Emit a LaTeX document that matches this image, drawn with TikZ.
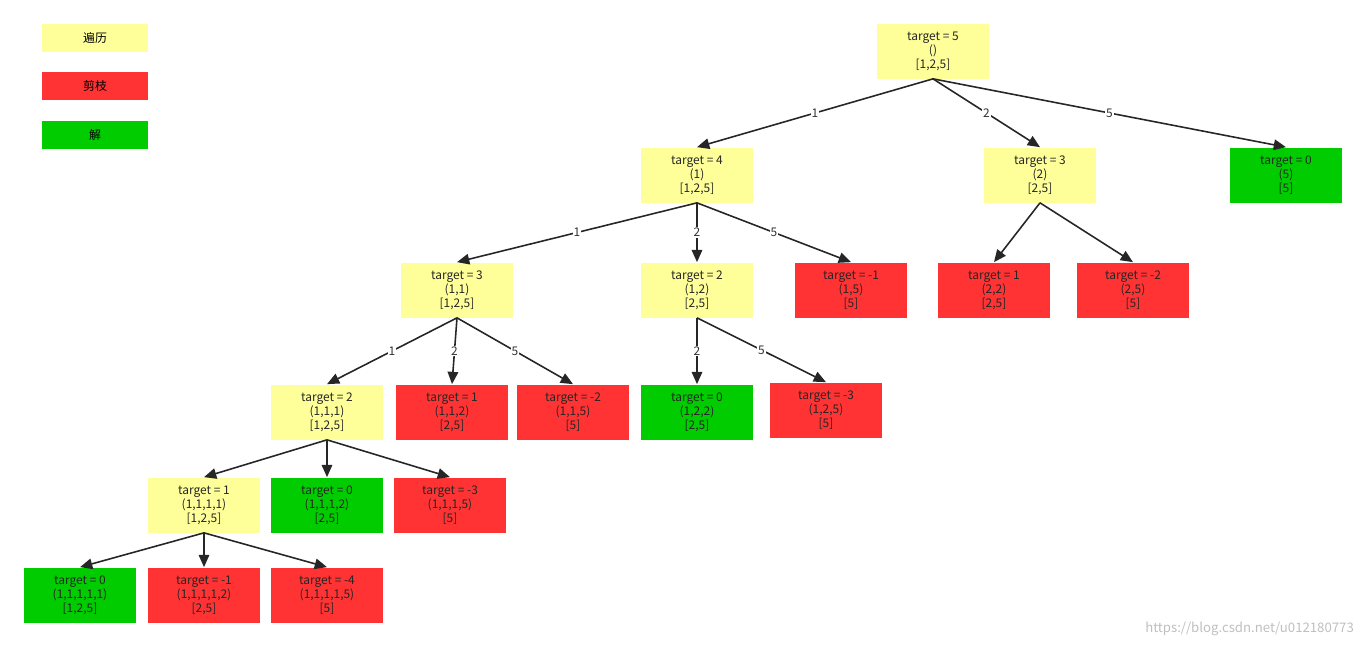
\documentclass[tikz,border=0pt]{standalone}
\usepackage{fontspec}
\setmainfont{Noto Sans CJK SC}
\usetikzlibrary{arrows.meta}
\definecolor{bianli}{HTML}{FFFF99}
\definecolor{jianzhi}{HTML}{FF3333}
\definecolor{jie}{HTML}{00CC00}
\tikzset{
  box/.style={minimum width=2.26cm, minimum height=1.1cm, inner sep=0pt, align=center,
    font=\fontsize{6.8}{8}\selectfont, text=black!85},
  trav/.style={box, fill=bianli},
  cut/.style={box, fill=jianzhi},
  sol/.style={box, fill=jie},
  leg/.style={minimum width=2.12cm, minimum height=0.56cm, inner sep=0pt, font=\fontsize{6.8}{8}\selectfont},
  edge/.style={draw=black!85, line width=0.9pt, -{Triangle[length=7pt,width=6pt]}},
  lab/.style={fill=white, inner sep=0.5pt, font=\fontsize{6.8}{8}\selectfont, text=black!80}
}
\begin{document}
\begin{tikzpicture}[x=0.02cm, y=-0.02cm]
  \useasboundingbox (0,0) rectangle (1367,647);
  % Legende
  \node[leg, fill=bianli] (lgA) at (95,38) {遍历};
  \node[leg, fill=jianzhi] (lgB) at (95,86) {剪枝};
  \node[leg, fill=jie] (lgC) at (95,135) {解};
  % Ebene 0
  \node[trav] (root) at (933,51) {target = 5\\()\\{}[1,2,5]};
  % Ebene 1
  \node[trav] (a4) at (697,175) {target = 4\\(1)\\{}[1,2,5]};
  \node[trav] (b3) at (1040,175) {target = 3\\(2)\\{}[2,5]};
  \node[sol] (c0) at (1286,175) {target = 0\\(5)\\{}[5]};
  % Ebene 2
  \node[trav] (a3) at (457,290) {target = 3\\(1,1)\\{}[1,2,5]};
  \node[trav] (a2) at (697,290) {target = 2\\(1,2)\\{}[2,5]};
  \node[cut] (am1) at (851,290) {target = -1\\(1,5)\\{}[5]};
  \node[cut] (b1) at (994,290) {target = 1\\(2,2)\\{}[2,5]};
  \node[cut] (bm2) at (1133,290) {target = -2\\(2,5)\\{}[5]};
  % Ebene 3
  \node[trav] (d2) at (327,412) {target = 2\\(1,1,1)\\{}[1,2,5]};
  \node[cut] (d1) at (452,412) {target = 1\\(1,1,2)\\{}[2,5]};
  \node[cut] (dm2) at (573,412) {target = -2\\(1,1,5)\\{}[5]};
  \node[sol] (e0) at (697,412) {target = 0\\(1,2,2)\\{}[2,5]};
  \node[cut] (em3) at (826,410) {target = -3\\(1,2,5)\\{}[5]};
  % Ebene 4
  \node[trav] (f1) at (204,505) {target = 1\\(1,1,1,1)\\{}[1,2,5]};
  \node[sol] (f0) at (327,505) {target = 0\\(1,1,1,2)\\{}[2,5]};
  \node[cut] (fm3) at (450,505) {target = -3\\(1,1,1,5)\\{}[5]};
  % Ebene 5
  \node[sol] (g0) at (80,595) {target = 0\\(1,1,1,1,1)\\{}[1,2,5]};
  \node[cut] (gm1) at (204,595) {target = -1\\(1,1,1,1,2)\\{}[2,5]};
  \node[cut] (gm4) at (327,595) {target = -4\\(1,1,1,1,5)\\{}[5]};
  % Kanten
  \draw[edge] (root.south) -- node[lab] {1} (a4.north);
  \draw[edge] (root.south) -- node[lab] {2} (b3.north);
  \draw[edge] (root.south) -- node[lab] {5} (c0.north);
  \draw[edge] (a4.south) -- node[lab] {1} (a3.north);
  \draw[edge] (a4.south) -- node[lab] {2} (a2.north);
  \draw[edge] (a4.south) -- node[lab] {5} (am1.north);
  \draw[edge] (b3.south) -- (b1.north);
  \draw[edge] (b3.south) -- (bm2.north);
  \draw[edge] (a3.south) -- node[lab] {1} (d2.north);
  \draw[edge] (a3.south) -- node[lab] {2} (d1.north);
  \draw[edge] (a3.south) -- node[lab] {5} (dm2.north);
  \draw[edge] (a2.south) -- node[lab] {2} (e0.north);
  \draw[edge] (a2.south) -- node[lab] {5} (em3.north);
  \draw[edge] (d2.south) -- (f1.north);
  \draw[edge] (d2.south) -- (f0.north);
  \draw[edge] (d2.south) -- (fm3.north);
  \draw[edge] (f1.south) -- (g0.north);
  \draw[edge] (f1.south) -- (gm1.north);
  \draw[edge] (f1.south) -- (gm4.north);
  % Wasserzeichen
  \node[anchor=east, text=black!25, font=\fontsize{7.5}{9}\selectfont] (wm) at (1360,629) {https://blog.csdn.net/u012180773};
\end{tikzpicture}
\end{document}
